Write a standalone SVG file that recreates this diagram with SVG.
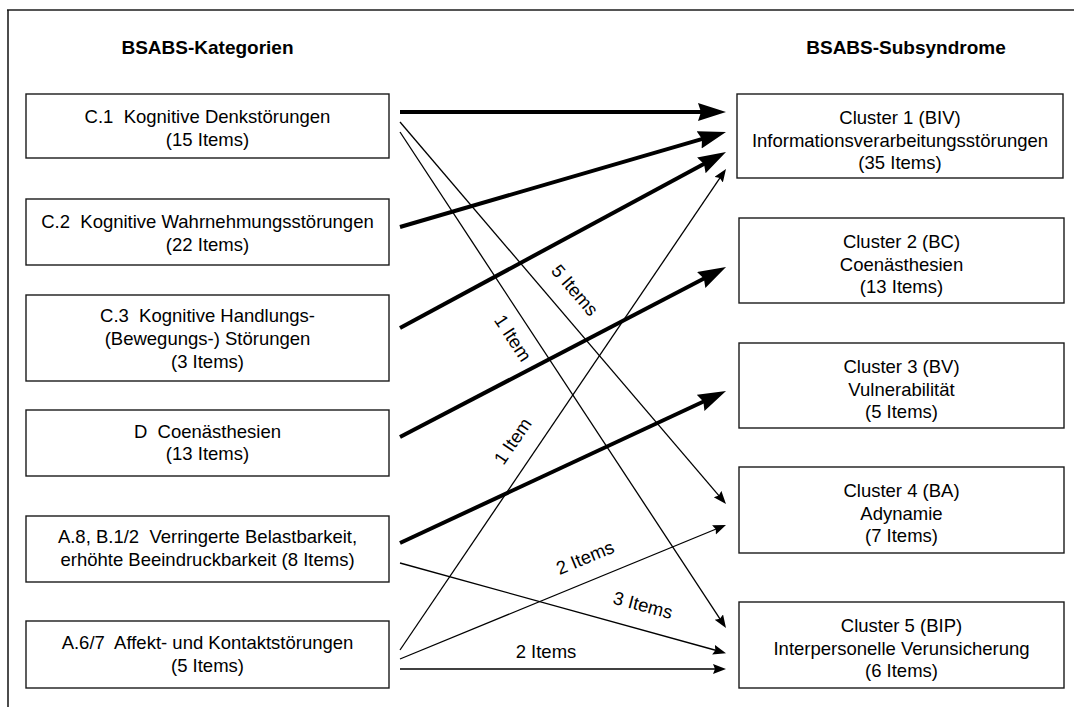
<svg xmlns="http://www.w3.org/2000/svg" width="1074" height="707" viewBox="0 0 1074 707">
<style>
text{font-family:"Liberation Sans",Arial,sans-serif;font-size:18.5px;fill:#000;text-anchor:middle}
.title{font-weight:bold;font-size:19px}
.box{fill:#fff;stroke:#1a1a1a;stroke-width:1.4}
.thick{stroke:#000;stroke-width:4;fill:none;marker-end:url(#ah)}
.thin{stroke:#000;stroke-width:1.3;fill:none;marker-end:url(#at)}
</style>
<defs>
<marker id="ah" markerUnits="userSpaceOnUse" markerWidth="30" markerHeight="20" refX="8" refY="9" orient="auto"><path d="M0,0 L28,9 L0,18 L3,9 z" fill="#000"/></marker>
<marker id="at" markerUnits="userSpaceOnUse" markerWidth="15" markerHeight="12" refX="5" refY="5" orient="auto"><path d="M0,0 L13,5 L0,10 L2,5 z" fill="#000"/></marker>
</defs>
<rect width="1074" height="707" fill="#fff"/>
<line x1="7" y1="10" x2="1074" y2="10" stroke="#555" stroke-width="2"/>
<line x1="8" y1="10" x2="8" y2="707" stroke="#111" stroke-width="1.5"/>
<text class="title" x="207.5" y="54">BSABS-Kategorien</text>
<text class="title" x="906" y="54">BSABS-Subsyndrome</text>

<g id="c1"><rect class="box" x="26" y="94" width="363" height="64"/><text x="207.5" y="123" xml:space="preserve">C.1  Kognitive Denkstörungen</text><text x="207.5" y="146">(15 Items)</text></g>
<g id="c2"><rect class="box" x="26" y="199" width="363" height="66"/><text x="207.5" y="228" xml:space="preserve">C.2  Kognitive Wahrnehmungsstörungen</text><text x="207.5" y="251">(22 Items)</text></g>
<g id="c3"><rect class="box" x="26" y="295" width="363" height="86"/><text x="207.5" y="322" xml:space="preserve">C.3  Kognitive Handlungs-</text><text x="207.5" y="345">(Bewegungs-) Störungen</text><text x="207.5" y="368">(3 Items)</text></g>
<g id="d"><rect class="box" x="26" y="410" width="363" height="66"/><text x="207.5" y="438" xml:space="preserve">D  Coenästhesien</text><text x="207.5" y="460">(13 Items)</text></g>
<g id="a8"><rect class="box" x="26" y="516" width="363" height="66"/><text x="207.5" y="543" xml:space="preserve">A.8, B.1/2  Verringerte Belastbarkeit,</text><text x="207.5" y="566">erhöhte Beeindruckbarkeit (8 Items)</text></g>
<g id="a67"><rect class="box" x="26" y="621" width="363" height="67"/><text x="207.5" y="649" xml:space="preserve">A.6/7  Affekt- und Kontaktstörungen</text><text x="207.5" y="672">(5 Items)</text></g>

<g id="cl1"><rect class="box" x="737" y="94" width="326" height="84"/><text x="900" y="124">Cluster 1 (BIV)</text><text x="900" y="147">Informationsverarbeitungsstörungen</text><text x="900" y="169">(35 Items)</text></g>
<g id="cl2"><rect class="box" x="739" y="218" width="325" height="85"/><text x="901.5" y="248">Cluster 2 (BC)</text><text x="901.5" y="271">Coenästhesien</text><text x="901.5" y="293">(13 Items)</text></g>
<g id="cl3"><rect class="box" x="739" y="343" width="325" height="85"/><text x="901.5" y="373">Cluster 3 (BV)</text><text x="901.5" y="396">Vulnerabilität</text><text x="901.5" y="418">(5 Items)</text></g>
<g id="cl4"><rect class="box" x="739" y="467" width="325" height="86"/><text x="901.5" y="497">Cluster 4 (BA)</text><text x="901.5" y="520">Adynamie</text><text x="901.5" y="542">(7 Items)</text></g>
<g id="cl5"><rect class="box" x="739" y="602" width="325" height="86"/><text x="901.5" y="632">Cluster 5 (BIP)</text><text x="901.5" y="655">Interpersonelle Verunsicherung</text><text x="901.5" y="677">(6 Items)</text></g>

<g id="connectors">
<line class="thick" x1="400" y1="112" x2="706" y2="112"/>
<line class="thick" x1="400" y1="227" x2="706.8" y2="137.6"/>
<line class="thick" x1="400" y1="328" x2="708.4" y2="161.5"/>
<line class="thick" x1="400" y1="437" x2="708.3" y2="276.2"/>
<line class="thick" x1="400" y1="543" x2="707.9" y2="399.5"/>
<line class="thin" x1="400" y1="122" x2="720.8" y2="497.9"/>
<line class="thin" x1="400" y1="132" x2="721.6" y2="621.3"/>
<line class="thin" x1="400" y1="650" x2="721.5" y2="175.6"/>
<line class="thin" x1="400" y1="659" x2="718.6" y2="528"/>
<line class="thin" x1="400" y1="563" x2="718.3" y2="651"/>
<line class="thin" x1="400" y1="669" x2="718" y2="669"/>
<text transform="translate(575,290) rotate(49.5)" y="6.5">5 Items</text>
<text transform="translate(513,338) rotate(56.7)" y="6.5">1 Item</text>
<text transform="translate(512.5,441) rotate(-55.8)" y="6.5">1 Item</text>
<text transform="translate(585,557.5) rotate(-22.3)" y="6.5">2 Items</text>
<text transform="translate(643,605) rotate(14.7)" y="6.5">3 Items</text>
<text x="546" y="658">2 Items</text>
</g>
</svg>
